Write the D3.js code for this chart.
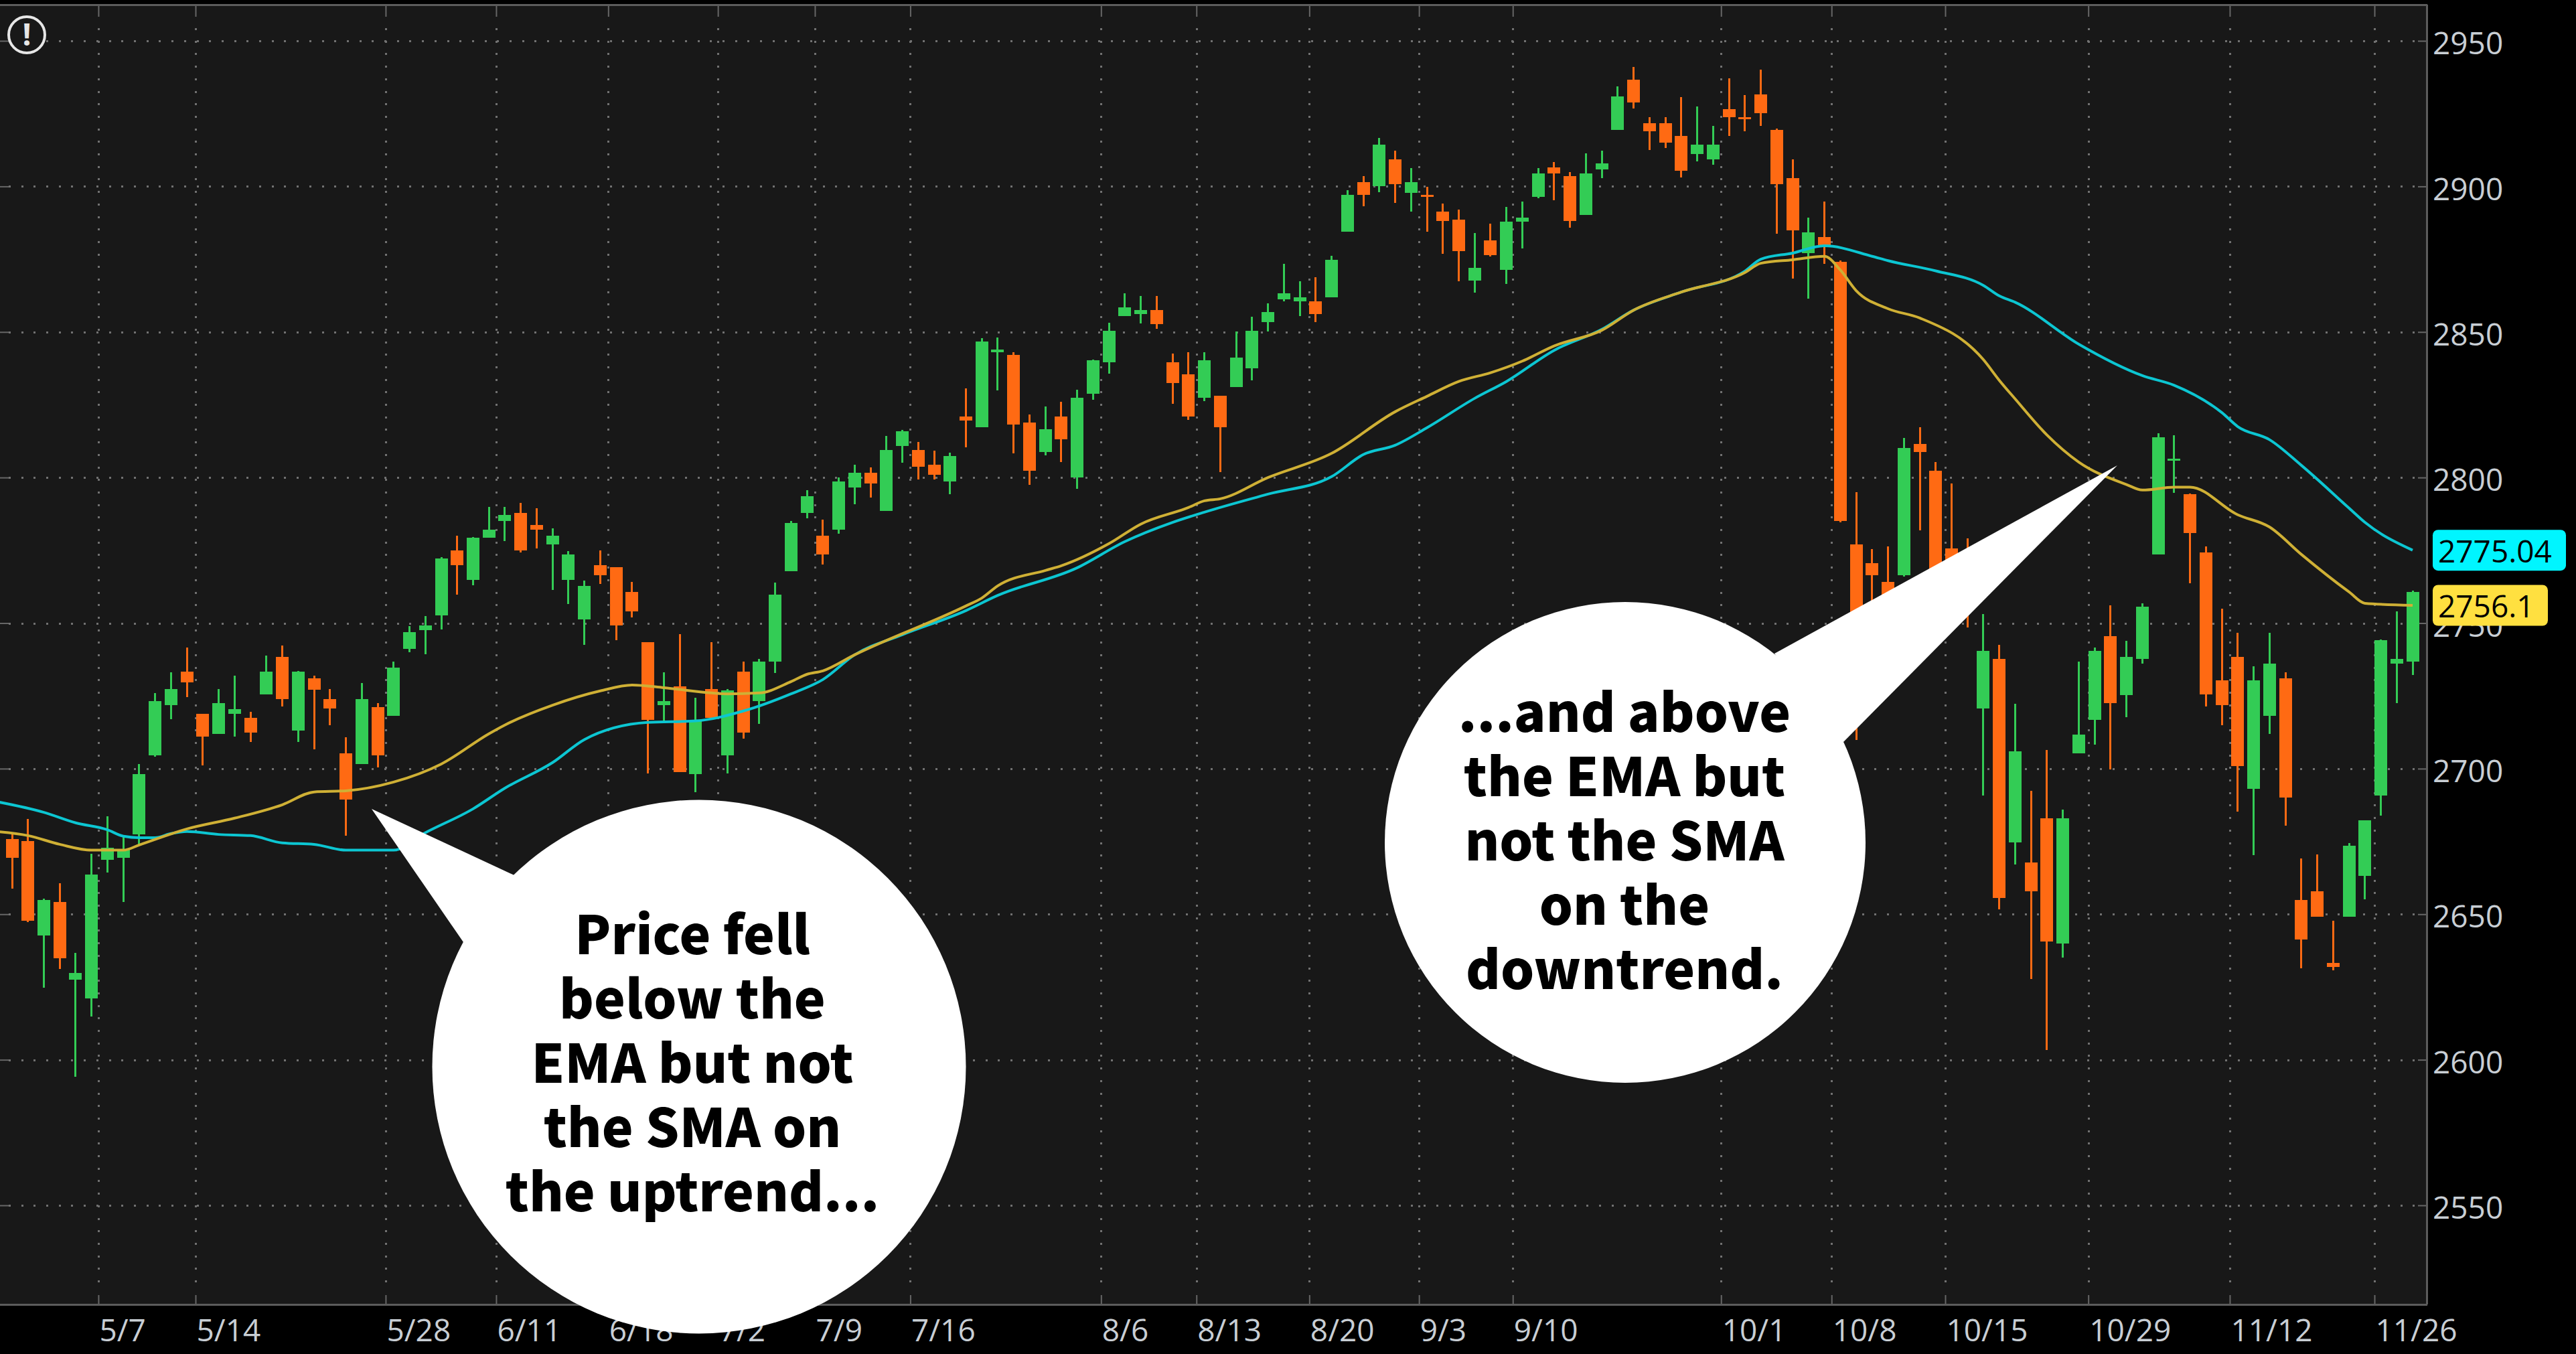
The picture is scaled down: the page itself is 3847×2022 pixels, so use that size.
<!DOCTYPE html>
<html><head><meta charset="utf-8">
<style>html,body{margin:0;padding:0;background:#000;overflow:hidden}svg{display:block}</style>
<script src="https://cdn.jsdelivr.net/npm/d3@7"></script></head><body>
<script>
const opens=[2675.8,2675.1,2642.7,2654.2,2627.5,2621.1,2668.7,2669.4,2677.4,2704.6,2721.8,2733.3,2718.8,2712,2718.8,2717.5,2725.5,2738.4,2713.1,2731,2723.9,2705.3,2701.6,2721.1,2718.2,2741.2,2747.6,2752.7,2775,2764.8,2779.3,2785.1,2787.8,2783.7,2777,2764.8,2751.3,2769.9,2769.2,2760.7,2743.5,2721.8,2728.3,2698.1,2727.4,2704.6,2733.3,2723.2,2736.8,2767.8,2787.8,2780,2782.1,2796.6,2801.6,2788.5,2810.8,2809.5,2804.4,2798.7,2821,2817.3,2843,2842.1,2818.9,2808.8,2821,2800,2828.8,2839.6,2855.5,2856.2,2857.5,2839.6,2835.5,2827.4,2828.1,2831.1,2837.5,2853.4,2861.2,2860.5,2860.5,2861.9,2884.4,2901.5,2900.1,2909.3,2897.8,2897.1,2891.3,2888.6,2867.7,2881.5,2871.3,2887.9,2896.4,2906.5,2903.5,2890.2,2905.8,2919.4,2936.7,2921.7,2921.7,2917.3,2911.1,2909.3,2926.5,2923.8,2931.6,2919.4,2902.8,2877.1,2882.6,2874.1,2777,2770.6,2764.2,2766.5,2811.5,2802.3,2775.7,2770,2720.7,2737.7,2674.7,2667.8,2683,2640,2705.3,2716.8,2745.5,2725.3,2737.7,2773.6,2805.8,2794.3,2774.3,2730.3,2738.4,2693.1,2718.2,2731,2654.9,2657.9,2633.3,2649.2,2663.2,2690.8,2736.1,2736.8];
const highs=[2677.7,2682.7,2655.3,2660.7,2636.7,2670.8,2683.7,2676.5,2701.6,2726,2733.1,2741.6,2718.8,2727.4,2732,2719.5,2738.9,2742.3,2733.5,2732,2727.4,2710.8,2729.4,2722.5,2736.8,2749,2752.4,2772.7,2780,2779.5,2789.9,2789.9,2791.3,2789.5,2782.6,2774.7,2764.6,2775,2769.2,2764.2,2743.5,2733.1,2746.2,2724.4,2743.5,2727.4,2736.8,2737.7,2763.9,2785,2795.7,2785.5,2800,2804.4,2803.5,2814.3,2816.4,2812.2,2809.2,2808.5,2830.6,2847.9,2848,2843,2821.7,2824.4,2826,2830.2,2840.5,2853.2,2863.3,2862.4,2862.4,2842.6,2843,2843,2828.1,2850.2,2855.2,2859.8,2873.4,2867.4,2868.8,2876.2,2898.7,2903.5,2916.6,2912.3,2906.3,2899.9,2894.1,2892,2884,2887.2,2893,2894.8,2906.3,2908.4,2904.9,2911.4,2912.3,2934.4,2941,2923.8,2923.8,2930.7,2927.5,2920.8,2937.1,2931.4,2940.1,2919.9,2909.3,2889.3,2894.8,2874.5,2795,2775.4,2776.3,2813.6,2817.3,2805.3,2798,2779.1,2753.1,2742.5,2722.3,2692.4,2706.4,2686,2736.8,2741.6,2756.1,2743.9,2756.8,2815.2,2814.5,2794.5,2776.3,2755,2746.7,2735.2,2746.7,2733.1,2669.2,2670.5,2647.8,2674.4,2682.3,2744.3,2754,2761.2];
const lows=[2658.8,2647.3,2624.8,2631.2,2594.2,2614.9,2664.3,2654.2,2673.8,2704.1,2717,2724.6,2701.1,2712,2711,2709.2,2725.5,2721.4,2709.2,2706.7,2715,2677,2701.6,2700.4,2718.2,2740,2739.3,2747.8,2759.8,2763,2779.3,2778.2,2774.3,2775.7,2761.4,2756.6,2742.5,2763.5,2744.1,2752,2698.4,2715.6,2698.8,2691.9,2717.5,2698.4,2710.3,2715.4,2732.9,2767.8,2786,2770.1,2780.7,2790.8,2793.1,2788.5,2805.1,2799.3,2799.3,2794.3,2810.4,2817.3,2830,2808.3,2797.5,2807.6,2805.3,2796.1,2826.7,2835.7,2855.5,2853,2851.1,2825.3,2819.8,2826.3,2801.9,2831.1,2833.4,2850.2,2860.5,2855.5,2853.4,2861.9,2884.4,2893.2,2898,2894.3,2891.3,2884.4,2876.9,2867.4,2863.5,2876,2866.5,2878.7,2896,2895.3,2885.8,2890.2,2902.8,2919.4,2926.8,2912.5,2913.2,2903.1,2908.6,2907.4,2917.3,2919,2920.8,2883.8,2868.3,2861.4,2873.4,2784.6,2709.9,2755,2750,2766,2781.9,2755,2760,2748.5,2690.8,2651.7,2667.1,2627.8,2603.4,2635.1,2705.3,2708.3,2699.8,2717.7,2736.1,2773.6,2794.7,2763.7,2721.4,2715,2685.3,2670.3,2712,2680.4,2631.4,2649.2,2630.8,2649.2,2655.1,2683.9,2722.5,2732.2];
const closes=[2669.4,2647.8,2654.9,2634.9,2629.8,2663.6,2672.8,2672.2,2698.1,2723.2,2727.4,2729.7,2711,2722.5,2720.5,2712.4,2733.3,2723.9,2733.3,2727.1,2720.7,2689.4,2723.9,2704.6,2734.7,2746.9,2749.2,2772.2,2769.9,2779.3,2782.1,2787.2,2775,2782.1,2780,2773.6,2762.8,2766.5,2749.2,2754,2716.8,2723.2,2698.8,2716.3,2717.5,2726.9,2712.4,2736.8,2759.8,2784.4,2793.6,2773.6,2798.7,2801.6,2798,2809.5,2815.9,2803.7,2801,2807.4,2819.6,2846.7,2844,2818.2,2802.3,2816.6,2813.1,2827.4,2840.3,2850.4,2858.5,2857.5,2852.7,2832.5,2821,2840.3,2817.3,2841.2,2850.4,2856.8,2863.3,2861.9,2856.2,2874.8,2897.1,2897.1,2914.3,2900.8,2901.5,2896.4,2888.1,2877.8,2872,2876.4,2887.9,2889.3,2904.5,2904.5,2888.1,2904.5,2907.9,2930.9,2928.8,2919,2915,2905.4,2914.3,2914.3,2923.8,2923.1,2925.2,2900.8,2884.9,2884.2,2879.8,2785.1,2743.2,2766.5,2758,2810.2,2808.8,2760,2765,2755,2740.5,2655.6,2706,2657.9,2640.6,2683,2711.7,2740.5,2722.5,2738.4,2755.6,2813.8,2806.5,2781,2725.5,2721.8,2700.9,2730.3,2736.1,2690.1,2641.3,2649.2,2631.9,2673.5,2682.3,2744.1,2737.7,2760.7];

const smaSlots=[-1,2,4,6,7,8,9,10,11,13,15,17,19,21,24,26,29,31,34,36,40,43,46,49,51,53,56,60,62,67,70,73,75,79,83,85,87,89,92,94,97,100,102,105,109,110,112,114,117,118,121,124,125,126,130,134,136,139,140,142,144,147,148,151];
const smaValues=[2688.7,2685,2681.4,2679,2676.8,2676.3,2676.3,2677.7,2678.4,2677.4,2677,2674.5,2674,2672,2672,2678,2686.2,2693.3,2702.1,2710,2715.9,2716.4,2719.8,2725.7,2730.6,2739.1,2746,2754.3,2759.5,2769,2778,2784.6,2788.1,2794.3,2800.3,2807.9,2811.1,2817.1,2827.2,2833,2843.7,2850.9,2857.5,2863.7,2870.9,2875,2877.1,2879.6,2876,2874.5,2871,2866,2862.4,2860.2,2845.8,2835,2831.7,2822.3,2817.5,2813,2804.2,2789.5,2784.6,2775.04];
const emaSlots=[-1,1,3,5,7,8,11,14,17,19,21,24,27,30,31,34,37,39,41,44,45,47,49,50,51,53,60,61,62,65,66,69,71,74,75,76,79,83,87,89,91,93,95,97,100,102,105,109,110,112,114,115,116,118,120,124,125,126,128,130,133,134,136,137,140,142,144,147,148,151];
const emaValues=[2678.4,2677,2674,2672,2672,2673.8,2679.3,2683,2687.6,2692,2692.4,2695.4,2701.6,2712,2715,2721.8,2726.7,2728.7,2727.8,2726,2725.7,2726,2729.9,2732.4,2733.6,2739.1,2755.9,2758.6,2762.8,2768.1,2769.7,2777.3,2784,2789.7,2792,2792.7,2800,2808.3,2822.6,2827.9,2833,2836,2840,2845.2,2850.6,2857.5,2863.7,2870.4,2873.6,2874.8,2876,2871.3,2864.2,2858,2854.8,2840.5,2833.4,2827,2814.6,2805.3,2797.6,2795.7,2796.7,2796.7,2787.2,2783,2773.6,2760.7,2756.8,2756.1];

const priceTicks=[2550,2600,2650,2700,2750,2800,2850,2900,2950];
const dateLabels=["5/7","5/14","5/28","6/11","6/18","7/2","7/9","7/16","8/6","8/13","8/20","9/3","9/10","10/1","10/8","10/15","10/29","11/12","11/26"];
const dateSlots=[5.43,11.54,23.5,30.45,37.5,44.4,50.5,56.5,68.5,74.5,81.6,88.5,94.4,107.5,114.45,121.6,130.6,139.5,148.6];
const lastLabels=["2775.04","2756.1"];
const lastValues=[2775.04,2756.1];
const leftNote=["Price fell","below the","EMA but not","the SMA on","the uptrend..."];
const rightNote=["...and above","the EMA but","not the SMA","on the","downtrend."];

const W=3847,H=2022,plotR=3624,plotT=7,plotB=1948;
const FONT='"Open Sans",sans-serif';
const x=d3.scaleLinear().domain([0,opens.length-1]).range([18,3603]);
const y=d3.scaleLinear().domain([2550,2950]).range([1800,61]);
const svg=d3.select("body").append("svg").attr("width",W).attr("height",H).attr("viewBox",`0 0 ${W} ${H}`);
svg.append("rect").attr("width",W).attr("height",H).attr("fill","#000");
svg.append("rect").attr("x",0).attr("y",plotT).attr("width",plotR).attr("height",plotB-plotT).attr("fill","#181818");

// grid
const grid=svg.append("g").attr("stroke","#717171").attr("stroke-width",3).attr("stroke-dasharray","3 15.7").attr("shape-rendering","crispEdges");
grid.selectAll(".h").data(priceTicks).join("line").attr("x1",13).attr("x2",plotR-12).attr("y1",d=>Math.round(y(d))).attr("y2",d=>Math.round(y(d)));
grid.selectAll(".v").data(dateSlots).join("line").attr("x1",d=>Math.round(x(d))).attr("x2",d=>Math.round(x(d))).attr("y1",42).attr("y2",1925);

// axes
const axB=svg.append("g").attr("transform",`translate(0,${plotB})`)
  .call(d3.axisBottom(x).tickValues(dateSlots).tickFormat((d,i)=>dateLabels[i]).tickSize(-14).tickPadding(0));
axB.select(".domain").remove();
axB.selectAll("line").attr("stroke","#666").attr("stroke-width",2);
axB.selectAll("text").attr("text-anchor","start").attr("x",1).attr("y",55).attr("dy",0).attr("font-family",FONT).attr("font-size",46).attr("fill","#c8ced4");
const axT=svg.append("g").attr("transform",`translate(0,${plotT})`)
  .call(d3.axisTop(x).tickValues(dateSlots).tickFormat("").tickSize(-18));
axT.select(".domain").remove();
axT.selectAll("line").attr("stroke","#666").attr("stroke-width",2);
const axR=svg.append("g").attr("transform",`translate(${plotR},0)`)
  .call(d3.axisRight(y).tickValues(priceTicks).tickFormat(d3.format("d")).tickSize(-13).tickPadding(0));
axR.select(".domain").remove();
axR.selectAll("line").attr("stroke","#666").attr("stroke-width",2);
axR.selectAll("text").attr("x",9).attr("dy",0).attr("y",19.7).attr("font-family",FONT).attr("font-size",46).attr("fill","#c8ced4");
const axL=svg.append("g").call(d3.axisRight(y).tickValues(priceTicks).tickFormat("").tickSize(13));
axL.select(".domain").remove();
axL.selectAll("line").attr("stroke","#666").attr("stroke-width",2);

// frame
const frame=svg.append("g").attr("stroke","#5c5c5c").attr("stroke-width",3).attr("shape-rendering","crispEdges");
frame.append("line").attr("x1",0).attr("x2",plotR+1).attr("y1",plotT).attr("y2",plotT);
frame.append("line").attr("x1",0).attr("x2",plotR+1).attr("y1",plotB).attr("y2",plotB);
frame.append("line").attr("x1",plotR).attr("x2",plotR).attr("y1",plotT).attr("y2",plotB);

// candles
const UP="#33cc55",DOWN="#ff6a13";
const candles=opens.map((o,i)=>({i,o,h:highs[i],l:lows[i],c:closes[i]}));
const bodyW=19;
const cg=svg.append("g").attr("shape-rendering","crispEdges");
cg.selectAll("line").data(candles).join("line")
  .attr("x1",d=>x(d.i)).attr("x2",d=>x(d.i)).attr("y1",d=>y(d.h)).attr("y2",d=>y(d.l))
  .attr("stroke",d=>d.c>=d.o?UP:DOWN).attr("stroke-width",3);
cg.selectAll("rect").data(candles).join("rect")
  .attr("x",d=>x(d.i)-bodyW/2).attr("width",bodyW)
  .attr("y",d=>y(Math.max(d.o,d.c))).attr("height",d=>Math.max(3,Math.abs(y(d.o)-y(d.c))))
  .attr("fill",d=>d.c>=d.o?UP:DOWN);

// moving averages
const lineGen=d3.line().x(d=>x(d[0])).y(d=>y(d[1])).curve(d3.curveMonotoneX);
const maLines=svg.append("g").attr("fill","none").attr("stroke-width",4).attr("stroke-linejoin","round");
maLines.append("path").attr("d",lineGen(d3.zip(smaSlots,smaValues))).attr("stroke","#0cc6d2");
maLines.append("path").attr("d",lineGen(d3.zip(emaSlots,emaValues))).attr("stroke","#cfb035");

// last-value flags
const flagFill=["#00f5ff","#ffe040"],flagW=[199,172];
const flags=svg.append("g");
lastLabels.forEach((t,i)=>{
  const base=y(lastValues[i]);
  flags.append("rect").attr("x",3633).attr("y",base-30.5).attr("width",flagW[i]).attr("height",61).attr("rx",8).attr("fill",flagFill[i]);
  flags.append("text").attr("x",3641).attr("y",base+18).attr("font-family",FONT).attr("font-size",46).attr("fill","#000").text(t);
});

// speech bubbles
const bubbles=svg.append("g").attr("fill","#fff");
bubbles.append("circle").attr("cx",1044).attr("cy",1593).attr("r",398.5);
bubbles.append("polygon").attr("points","555,1208 768,1307 692,1407");
bubbles.append("circle").attr("cx",2427).attr("cy",1258).attr("r",359);
bubbles.append("polygon").attr("points","3162,695 2650,976 2753,1108");
const NOTE='"Noto Sans CJK JP","Noto Sans",sans-serif';
const note=svg.append("g").attr("font-family",NOTE).attr("font-weight",900).attr("font-size",79).attr("fill","#000").attr("text-anchor","middle");
note.selectAll(".l").data(leftNote).join("text").attr("x",1034).attr("y",(d,i)=>1425+i*96).text(d=>d);
note.selectAll(".r").data(rightNote).join("text").attr("x",2426).attr("y",(d,i)=>1093+i*96).text(d=>d);

// alert icon
const icon=svg.append("g");
icon.append("circle").attr("cx",40).attr("cy",52).attr("r",27).attr("fill","#181818").attr("stroke","#e6e6e6").attr("stroke-width",4);
icon.append("text").attr("x",40).attr("y",68).attr("text-anchor","middle").attr("font-family",FONT).attr("font-weight",700).attr("font-size",46).attr("fill","#e6e6e6").text("!");
</script></body></html>
